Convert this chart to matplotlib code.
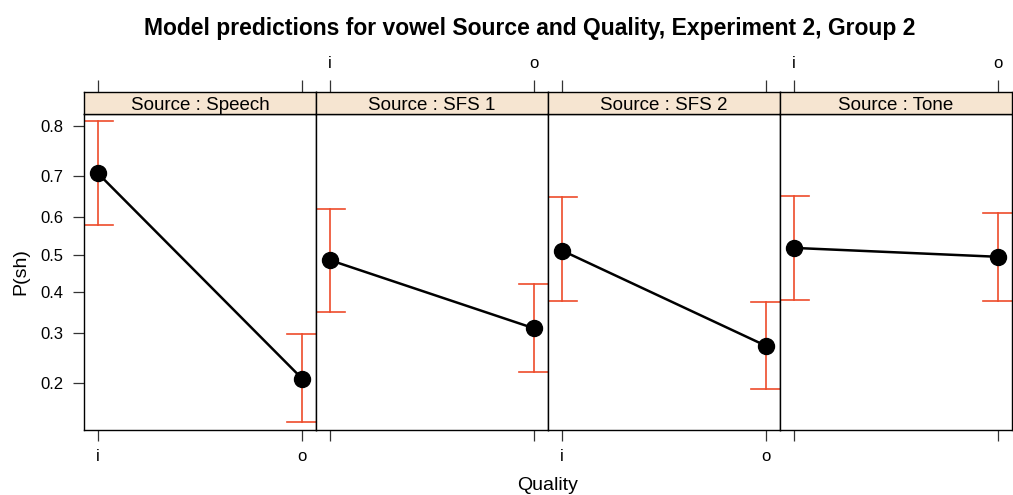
import numpy as np
import matplotlib
matplotlib.use("Agg")
import matplotlib.pyplot as plt

plt.rcParams['font.family'] = ['Liberation Sans', 'DejaVu Sans']

# effect estimates on the probability scale, one panel per source
sources = ["Speech", "SFS 1", "SFS 2", "Tone"]
quality = ["i", "o"]
fit = [[0.706, 0.208], [0.485, 0.311], [0.511, 0.272], [0.518, 0.494]]
upper = [[0.808, 0.298], [0.621, 0.421], [0.650, 0.376], [0.653, 0.609]]
lower = [[0.579, 0.141], [0.351, 0.219], [0.378, 0.190], [0.381, 0.378]]
yticks = [0.2, 0.3, 0.4, 0.5, 0.6, 0.7, 0.8]

W, H = 1013, 495
fig = plt.figure(figsize=(W / 100, H / 100), dpi=100)

left_px, panel_w = 84, 232
top_strip, top_plot, bottom_plot = 92, 114, 430
red = "#EE4B2B"
strip_col = "#F6E5D1"
xs = np.array([1, 2])
xlim = (1 - 14 / 204, 2 + 14 / 204)
cap = 15 / 204
tick_fs = 12

for k, src in enumerate(sources):
    x0 = (left_px + k * panel_w) / W
    ax = fig.add_axes([x0, 1 - bottom_plot / H, panel_w / W, (bottom_plot - top_plot) / H])
    ax.set_yscale("logit")
    ax.set_ylim(0.131, 0.820)
    ax.set_xlim(*xlim)

    for j in range(2):
        ax.plot([xs[j], xs[j]], [lower[k][j], upper[k][j]], color=red, lw=1.2, zorder=2)
        for v in (lower[k][j], upper[k][j]):
            ax.plot([xs[j] - cap, xs[j] + cap], [v, v], color=red, lw=1.2, zorder=2)
    ax.plot(xs, fit[k], color="black", lw=1.8, marker="o", ms=11.5, zorder=3)

    ax.minorticks_off()
    ax.set_yticks(yticks)
    ax.yaxis.set_minor_locator(matplotlib.ticker.NullLocator())
    if k == 0:
        ax.set_yticklabels([f"{t:.1f}" for t in yticks], fontsize=tick_fs)
        ax.tick_params(axis="y", direction="out", length=8, width=0.9, color="#333333", pad=7)
        ax.set_ylabel("P(sh)", fontsize=14, labelpad=8)
    else:
        ax.tick_params(axis="y", length=0, labelleft=False)

    ax.set_xticks(xs)
    ax.tick_params(axis="x", direction="out", length=8, width=0.9, color="#333333", pad=6)
    if k % 2 == 0:
        ax.set_xticklabels(quality, fontsize=tick_fs)
    else:
        ax.set_xticklabels(["", ""])
    for s in ax.spines.values():
        s.set_linewidth(1.0)

    # strip with the panel label, carrying the top axis ticks
    sx = fig.add_axes([x0, 1 - top_plot / H, panel_w / W, (top_plot - top_strip) / H])
    sx.set_facecolor(strip_col)
    sx.set_xlim(*xlim)
    sx.set_yticks([])
    sx.set_xticks(xs)
    sx.xaxis.tick_top()
    sx.tick_params(axis="x", direction="out", length=9, width=0.9, color="#333333", pad=6)
    if k % 2 == 1:
        sx.set_xticklabels(quality, fontsize=tick_fs)
    else:
        sx.set_xticklabels(["", ""])
    sx.text(0.5, 0.4, f"Source : {src}", transform=sx.transAxes,
            ha="center", va="center", fontsize=13.5)
    for s in sx.spines.values():
        s.set_linewidth(1.0)

fig.text((left_px + 2 * panel_w) / W, 1 - 486 / H, "Quality", ha="center", va="center", fontsize=14)
fig.text(530 / W, 1 - 28 / H, "Model predictions for vowel Source and Quality, Experiment 2, Group 2",
         ha="center", va="center", fontsize=16.5, fontweight="bold")

fig.savefig("out.png", dpi=100)
